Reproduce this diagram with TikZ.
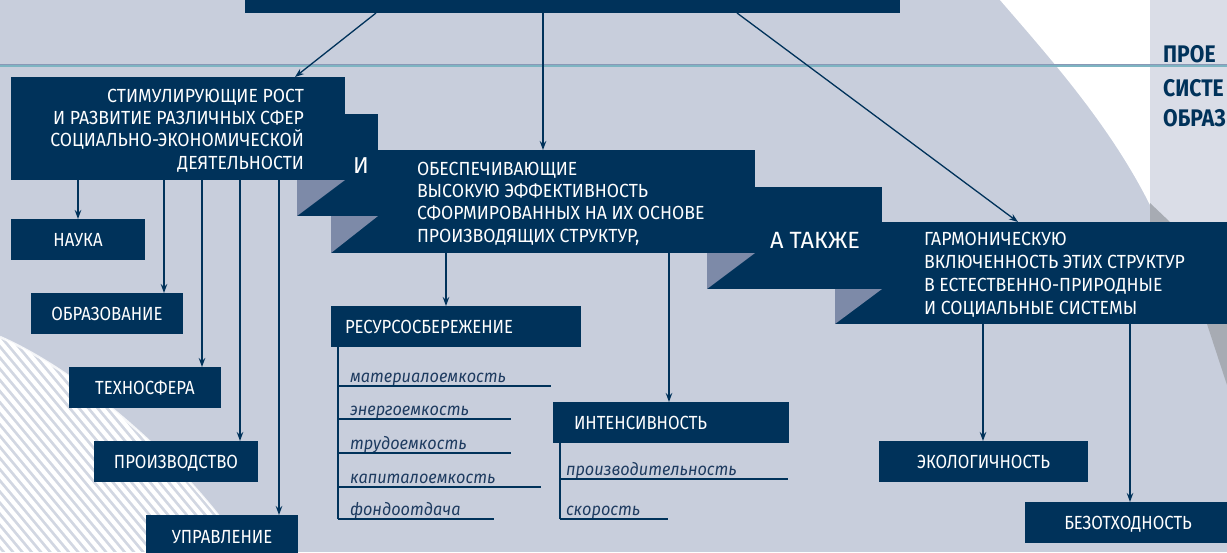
\documentclass[tikz,border=0pt]{standalone}
\usepackage{fontspec}
\setmainfont{Fira Sans}[FakeStretch=0.93]
\newfontfamily\boxfamily{Fira Sans}[FakeStretch=0.88]
\newfontfamily\widefamily{Fira Sans}[FakeStretch=1.0]
\newfontfamily\titlefamily{Fira Sans}[FakeStretch=0.88]
\newfontfamily\treefont{Fira Sans}[FakeStretch=0.93]
\usetikzlibrary{arrows.meta}
\definecolor{bgc}{HTML}{C8CEDC}
\definecolor{navy}{HTML}{00325A}
\definecolor{shade}{HTML}{7D8AA8}
\definecolor{panel}{HTML}{DADDE7}
\definecolor{tealc}{HTML}{7DB4C2}
\definecolor{tealedge}{HTML}{8A98B6}
\definecolor{stripebg}{HTML}{D2D7E2}
\definecolor{texturec}{HTML}{A7ABB3}
\definecolor{treetext}{HTML}{1E3B60}
\newcommand\lblfont{\fontsize{19}{22.3}\selectfont}
\newcommand\boxlblfont{\boxfamily\fontsize{19}{22.3}\selectfont}
\newcommand\trfont{\treefont\itshape\fontsize{17.5}{20}\selectfont}
\newcommand\titlefont{\titlefamily\bfseries\fontsize{24}{32}\selectfont}
\begin{document}
\begin{tikzpicture}[x=1pt,y=-1pt,
  nbox/.style={fill=navy, draw=none, inner sep=0, outer sep=0, anchor=north west},
  bbox/.style={nbox, text=white, font=\boxlblfont, text height=13, text depth=0},
  ltext/.style={text=white, font=\lblfont, inner sep=0, outer sep=0},
  fold/.style={fill=shade, draw=none},
  arr/.style={draw=navy, line width=1.3, -{Stealth[length=9, width=6.5]}},
  tree/.style={draw=navy, line width=1.6},
  titem/.style={inner xsep=12, inner ysep=4, outer sep=0, anchor=south west, align=left,
                text=treetext, font=\trfont, text height=11, text depth=0},
  pitem/.style={titem, inner xsep=6},
  ttl/.style={text=navy, font=\titlefont, inner sep=0, anchor=base west}
]
\useasboundingbox (0,0) rectangle (1227,552);
\clip (0,0) rectangle (1227,552);
% background
\fill[bgc] (0,0) rectangle (1227,552);
% white region and right panel
\fill[white] (1000,0) .. controls (1050,58) and (1110,125) .. (1150,205) -- (1150,0) -- cycle;
\fill[panel] (1150,0) rectangle (1227,222);
\fill[texturec] (1150,203) -- (1170,222) -- (1150,222) -- cycle;
\fill[texturec] (1207,324) -- (1227,324) -- (1227,385) -- cycle;
% striped region bottom left
\begin{scope}
  \clip (0,337) .. controls (80,372) and (185,462) .. (245,552) -- (0,552) -- cycle;
  \fill[stripebg] (0,330) rectangle (260,552);
  \foreach \i in {-40,...,30} {
    \draw[white, line width=4.2] (\i*9.3,330) -- ++(200,240);
  }
\end{scope}
\draw[white, line width=2.5, opacity=0.8] (0,337) .. controls (80,372) and (185,462) .. (245,552);
% horizontal rule
\draw[tealedge, line width=1.3] (0,64.7) -- (1227,64.7);
\draw[tealc, line width=2] (0,66.3) -- (1227,66.3);
% top-right title (as far as it is shown)
\node[ttl] (tr1) at (1163,62) {ПРОЕ};
\node[ttl] (tr2) at (1163,96) {СИСТЕ};
\node[ttl] (tr3) at (1163,126) {ОБРАЗ};
% top bar
\node[nbox, minimum width=655, minimum height=18] (top) at (245,-5) {};
% layered boxes
\node[nbox, minimum width=402, minimum height=102] (l5) at (835,222) {};
\node[nbox, minimum width=175, minimum height=102] (l4) at (707,187) {};
\node[nbox, minimum width=424, minimum height=103] (l3) at (331,150) {};
\node[nbox, minimum width=81, minimum height=102] (l2) at (297,114) {};
\node[nbox, minimum width=334, minimum height=103] (b1) at (11,77) {};
% folds
\fill[fold] (l2.south west |- b1.south) -- (b1.south east) -- (l2.south west) -- cycle;
\fill[fold] (l3.south west |- l2.south) -- (l2.south east) -- (l3.south west) -- cycle;
\fill[fold] (l4.south west |- l3.south) -- (l3.south east) -- (l4.south west) -- cycle;
\fill[fold] (l5.south west |- l4.south) -- (l4.south east) -- (l5.south west) -- cycle;
% texts on layers
\node[ltext, align=right, anchor=north east] (b1t) at (304,89)
  {СТИМУЛИРУЮЩИЕ РОСТ\\И РАЗВИТИЕ РАЗЛИЧНЫХ СФЕР\\СОЦИАЛЬНО-ЭКОНОМИЧЕСКОЙ\\ДЕЯТЕЛЬНОСТИ};
\node[ltext, font=\widefamily\fontsize{23}{26}\selectfont, anchor=base west] (andt) at (353,173) {И};
\node[ltext, align=left, anchor=north west] (l3t) at (417,162)
  {ОБЕСПЕЧИВАЮЩИЕ\\ВЫСОКУЮ ЭФФЕКТИВНОСТЬ\\СФОРМИРОВАННЫХ НА ИХ ОСНОВЕ\\ПРОИЗВОДЯЩИХ СТРУКТУР,};
\node[ltext, font=\widefamily\fontsize{23.5}{26}\selectfont, anchor=base west] (alsot) at (770,248) {А ТАКЖЕ};
\node[ltext, font=\fontsize{19}{23.2}\selectfont, align=left, anchor=north west] (l5t) at (924,232)
  {ГАРМОНИЧЕСКУЮ\\ВКЛЮЧЕННОСТЬ ЭТИХ СТРУКТУР\\В ЕСТЕСТВЕННО-ПРИРОДНЫЕ\\И СОЦИАЛЬНЫЕ СИСТЕМЫ};
% leaf boxes left
\node[bbox, minimum width=134, minimum height=41] (nauka) at (11,219) {НАУКА};
\node[bbox, minimum width=152, minimum height=41] (obr) at (31,293) {ОБРАЗОВАНИЕ};
\node[bbox, minimum width=152, minimum height=41] (tech) at (69,367) {ТЕХНОСФЕРА};
\node[bbox, minimum width=164, minimum height=41] (proizv) at (94,441) {ПРОИЗВОДСТВО};
\node[bbox, minimum width=152, minimum height=44] (upr) at (146,515) {УПРАВЛЕНИЕ};
% middle boxes
\node[bbox, minimum height=41, inner xsep=14, text width=222, align=left] (resurs) at (331,306) {РЕСУРСОСБЕРЕЖЕНИЕ};
\node[bbox, minimum height=41, inner xsep=21, text width=194, align=left] (intens) at (553,402) {ИНТЕНСИВНОСТЬ};
% right boxes
\node[bbox, minimum width=209, minimum height=41] (eco) at (879,441) {ЭКОЛОГИЧНОСТЬ};
\node[bbox, minimum width=206, minimum height=41] (bez) at (1025,502) {БЕЗОТХОДНОСТЬ};
% tree items
\node[titem, text width=189] (m1) at (338,386) {материалоемкость};
\node[titem, text width=149] (m2) at (338,419) {энергоемкость};
\node[titem, text width=149] (m3) at (338,453) {трудоемкость};
\node[titem, text width=179] (m4) at (338,487) {капиталоемкость};
\node[titem, text width=132] (m5) at (338,519) {фондоотдача};
\node[pitem, text width=216] (p1) at (560,479) {производительность};
\node[pitem, text width=96] (p2) at (560,519) {скорость};
\foreach \n in {m1,m2,m3,m4,m5,p1,p2} { \draw[tree] (\n.south west) -- (\n.south east); }
\draw[tree] ([xshift=7]resurs.south west) -- (m5.south west);
\draw[tree] ([xshift=7]intens.south west) -- (p2.south west);
% connectors from top bar
\draw[arr] ([xshift=131]top.south west) -- ([xshift=284]b1.north west);
\draw[arr] ([xshift=298]top.south west) -- ([xshift=298]top.south west |- l3.north);
\draw[arr] ([xshift=492]top.south west) -- ([xshift=183]l5.north west);
% connectors from b1
\draw[arr] (b1.south -| nauka.north) -- (nauka.north);
\draw[arr] ([xshift=153]b1.south west) -- ([xshift=133]obr.north west);
\draw[arr] ([xshift=191]b1.south west) -- ([xshift=133]tech.north west);
\draw[arr] ([xshift=229]b1.south west) -- ([xshift=146]proizv.north west);
\draw[arr] ([xshift=268]b1.south west) -- ([xshift=133]upr.north west);
% connectors from l3
\draw[arr] ([xshift=115]l3.south west) -- ([xshift=115]resurs.north west);
\draw[arr] ([xshift=338]l3.south west) -- ([xshift=116]intens.north west);
% connectors from l5
\draw[arr] ([xshift=148]l5.south west) -- ([xshift=104]eco.north west);
\draw[arr] ([xshift=295]l5.south west) -- ([xshift=105]bez.north west);
\end{tikzpicture}
\end{document}
